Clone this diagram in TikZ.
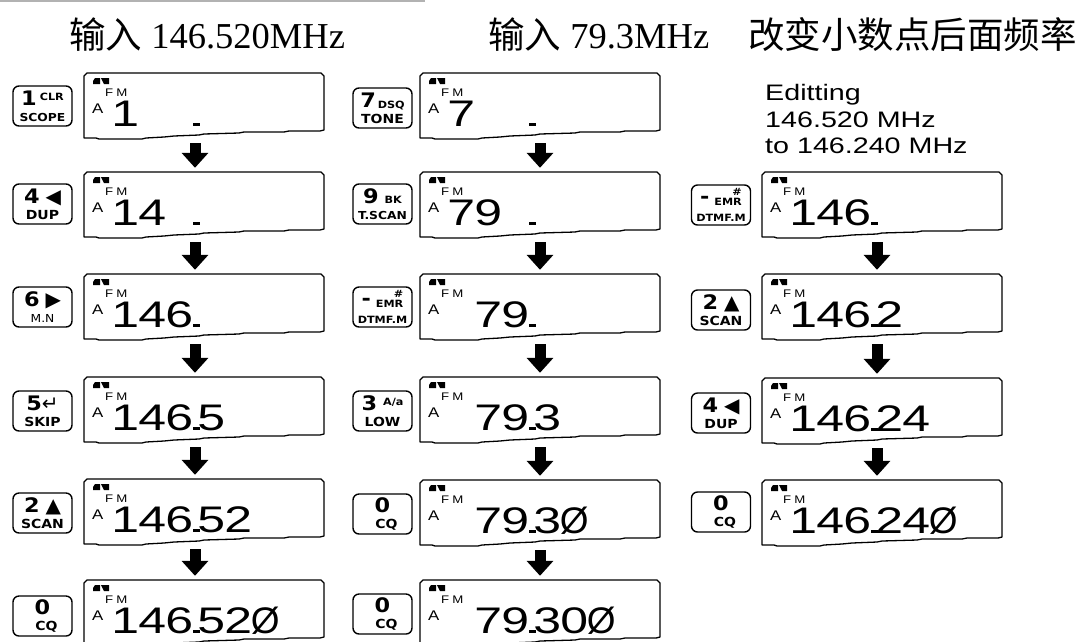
\documentclass[tikz,border=0pt]{standalone}
\usepackage{fontspec}
\usepackage{graphicx}
\usetikzlibrary{arrows.meta}
\setmainfont{Liberation Serif}
\newfontfamily\cjk{Noto Sans CJK SC}
\newfontfamily\lcdfont[FakeStretch=1.35]{Liberation Sans}
\newfontfamily\lcdsmall[FakeStretch=1.2]{Liberation Sans}
\newfontfamily\edfont[FakeStretch=1.28]{Liberation Sans}
\newfontfamily\keyfont[FakeStretch=1.12]{DejaVu Sans}
\newfontfamily\symfont{DejaVu Sans}
\newcommand\cl[1]{\makebox[27pt][c]{#1}}
\newcommand\zsl{\makebox[27pt][c]{\scalebox{0.74}[1]{Ø}}}
\newcommand\dsep{\hspace{5pt}}
\newcommand\lcd[4]{%
 \begin{scope}[shift={(#2,#3)}]
  \draw[lcdline] (0,65) -- (0,3) -- (3,0) -- (237,0) -- (240,3) -- (240,57)
    -- (236,58) -- (205,58) -- (200,59) -- (160,59) -- (155,60) -- (120,61)
    -- (115,62) -- (90,63) -- (80,64) -- (62,65) -- (58,66) -- (15,66) -- (12,65) -- cycle;
  \node[lcdframe] (#1) at (120,32.5) {};
  \fill (9,8) -- (11,5) -- (16,5) -- (16,11) -- (9,11) -- cycle;
  \fill (17,5) -- (25,5) -- (25,11) -- (20,11) -- cycle;
  \node[fmtext] (#1-fm) at (21,23) {F\hspace{3pt}M};
  \node[atext] (#1-a) at (8,40) {A};
  \fill (109,50) rectangle (116,53);
  \node[numtext] (#1-n) at (27.5,53) {#4};
 \end{scope}}
\newcommand\sm[1]{{\fontsize{10}{10}\selectfont #1}}
\newcommand\bg[1]{{\fontsize{20}{20}\selectfont #1}}
\newcommand\sy[1]{{\symfont\mdseries\fontsize{20}{20}\selectfont #1}}
\newcommand\lw[1]{{\fontsize{11}{11}\selectfont #1}}
\newcommand\lx[1]{{\fontsize{10}{10}\selectfont #1}}
\begin{document}
\begin{tikzpicture}[x=1pt,y=-1pt,
  lcdline/.style={line width=1.3pt, line join=round},
  lcdframe/.style={rectangle, minimum width=240pt, minimum height=65pt, inner sep=0pt},
  fmtext/.style={inner sep=0pt, anchor=base west, font=\lcdsmall\fontsize{11}{11}\selectfont},
  atext/.style={inner sep=0pt, anchor=base west, font=\lcdsmall\fontsize{14}{14}\selectfont},
  numtext/.style={inner sep=0pt, anchor=base west, font=\lcdfont\fontsize{37}{37}\selectfont},
  keybox/.style={draw, line width=1.4pt, rounded corners=6pt, minimum width=59pt, minimum height=40pt, inner sep=0pt, align=center, font=\keyfont\bfseries\fontsize{12.5}{16}\selectfont},
  flow/.style={line width=11pt, -{Triangle[width=26pt,length=15pt]}},
  header/.style={inner sep=0pt, anchor=base west, font=\fontsize{36.5}{40}\selectfont},
  edtext/.style={inner sep=0pt, anchor=base west, font=\edfont\fontsize{22.4}{27}\selectfont}]
\useasboundingbox (0,0) rectangle (1083,641);
\fill[white] (0,0) rectangle (1083,641);
\clip (0,0) rectangle (1083,641);
\draw[gray!60, line width=1.5pt] (0,1) -- (425,1);
% headers
\node[header] (h1) at (69,48) {{\cjk 输入} 146.520MHz};
\node[header] (h2) at (488,48) {{\cjk 输入} 79.3MHz};
\node[header] (h3) at (748,48) {\cjk 改变小数点后面频率};
\node[edtext] (ed1) at (765,100) {Editting};
\node[edtext] (ed2) at (765,127) {146.520 MHz};
\node[edtext] (ed3) at (765,153) {to 146.240 MHz};
% column 1
\lcd{c1r1}{84}{73}{\cl{1}}
\lcd{c1r2}{84}{172}{\cl{1}\cl{4}}
\lcd{c1r3}{84}{274}{\cl{1}\cl{4}\cl{6}}
\lcd{c1r4}{84}{377}{\cl{1}\cl{4}\cl{6}\dsep\cl{5}}
\lcd{c1r5}{84}{479}{\cl{1}\cl{4}\cl{6}\dsep\cl{5}\cl{2}}
\lcd{c1r6}{84}{580}{\cl{1}\cl{4}\cl{6}\dsep\cl{5}\cl{2}\zsl}
% column 2
\lcd{c2r1}{420}{73}{\cl{7}}
\lcd{c2r2}{420}{172}{\cl{7}\cl{9}}
\lcd{c2r3}{420}{274}{\cl{}\cl{7}\cl{9}}
\lcd{c2r4}{420}{377}{\cl{}\cl{7}\cl{9}\dsep\cl{3}}
\lcd{c2r5}{420}{480}{\cl{}\cl{7}\cl{9}\dsep\cl{3}\zsl}
\lcd{c2r6}{420}{580}{\cl{}\cl{7}\cl{9}\dsep\cl{3}\cl{0}\zsl}
% column 3
\lcd{c3r2}{762}{172}{\cl{1}\cl{4}\cl{6}}
\lcd{c3r3}{762}{274}{\cl{1}\cl{4}\cl{6}\dsep\cl{2}}
\lcd{c3r4}{762}{378}{\cl{1}\cl{4}\cl{6}\dsep\cl{2}\cl{4}}
\lcd{c3r5}{762}{480}{\cl{1}\cl{4}\cl{6}\dsep\cl{2}\cl{4}\zsl}
% keys column 1
\node[keybox] (k1a) at (42.5,106) {\bg{1}\hspace{3pt}\raisebox{5pt}{\sm{CLR}}\\\lw{SCOPE}};
\node[keybox] (k1b) at (42.5,204) {\bg{4}\hspace{6pt}\sy{◀}\\DUP};
\node[keybox] (k1c) at (42.5,307) {\bg{6}\hspace{6pt}\sy{▶}\\{\mdseries\lw{M.N}}};
\node[keybox] (k1d) at (42.5,411) {\bg{5}\sy{↵}\\SKIP\hspace{6pt}};
\node[keybox] (k1e) at (42.5,513) {\bg{2}\hspace{6pt}\sy{▲}\\SCAN};
\node[keybox] (k1f) at (42.5,616) {\bg{0}\hspace{20pt}\\\hspace{8pt}CQ};
% keys column 2
\node[keybox] (k2a) at (382.5,108) {\bg{7}\hspace{2pt}\raisebox{-1pt}{\sm{DSQ}}\\TONE};
\node[keybox] (k2b) at (382.5,204) {\bg{9}\hspace{6pt}\sm{BK}\\\lw{T.SCAN}};
\node[keybox] (k2c) at (382.5,307) {\bg{\raisebox{2pt}{-}}\hspace{5pt}\sm{EMR}\makebox[0pt][r]{\raisebox{10pt}{\sm{\#}}}\\\lx{DTMF.M}};
\node[keybox] (k2d) at (382.5,411) {\bg{3}\hspace{6pt}\raisebox{5pt}{\sm{A/a}}\\LOW};
\node[keybox] (k2e) at (382.5,514) {\bg{0}\hspace{20pt}\\\hspace{8pt}CQ};
\node[keybox] (k2f) at (382.5,614) {\bg{0}\hspace{20pt}\\\hspace{8pt}CQ};
% keys column 3
\node[keybox] (k3a) at (721,205) {\bg{\raisebox{2pt}{-}}\hspace{5pt}\sm{EMR}\makebox[0pt][r]{\raisebox{10pt}{\sm{\#}}}\\\lx{DTMF.M}};
\node[keybox] (k3b) at (721,310) {\bg{2}\hspace{6pt}\sy{▲}\\SCAN};
\node[keybox] (k3c) at (721,413) {\bg{4}\hspace{6pt}\sy{◀}\\DUP};
\node[keybox] (k3d) at (721,512) {\bg{0}\hspace{20pt}\\\hspace{8pt}CQ};
% arrows
\foreach \a/\b in {c1r1/c1r2,c1r2/c1r3,c1r3/c1r4,c1r4/c1r5,c1r5/c1r6}
  \draw[flow] ([xshift=-9pt,yshift=-5pt]\a.south) -- ([xshift=-9pt,yshift=4pt]\b.north);
\foreach \a/\b in {c2r1/c2r2,c2r2/c2r3,c2r3/c2r4,c2r4/c2r5,c2r5/c2r6}
  \draw[flow] ([yshift=-5pt]\a.south) -- ([yshift=4pt]\b.north);
\foreach \a/\b in {c3r2/c3r3,c3r3/c3r4,c3r4/c3r5}
  \draw[flow] ([xshift=-5pt,yshift=-5pt]\a.south) -- ([xshift=-5pt,yshift=4pt]\b.north);
\end{tikzpicture}
\end{document}
